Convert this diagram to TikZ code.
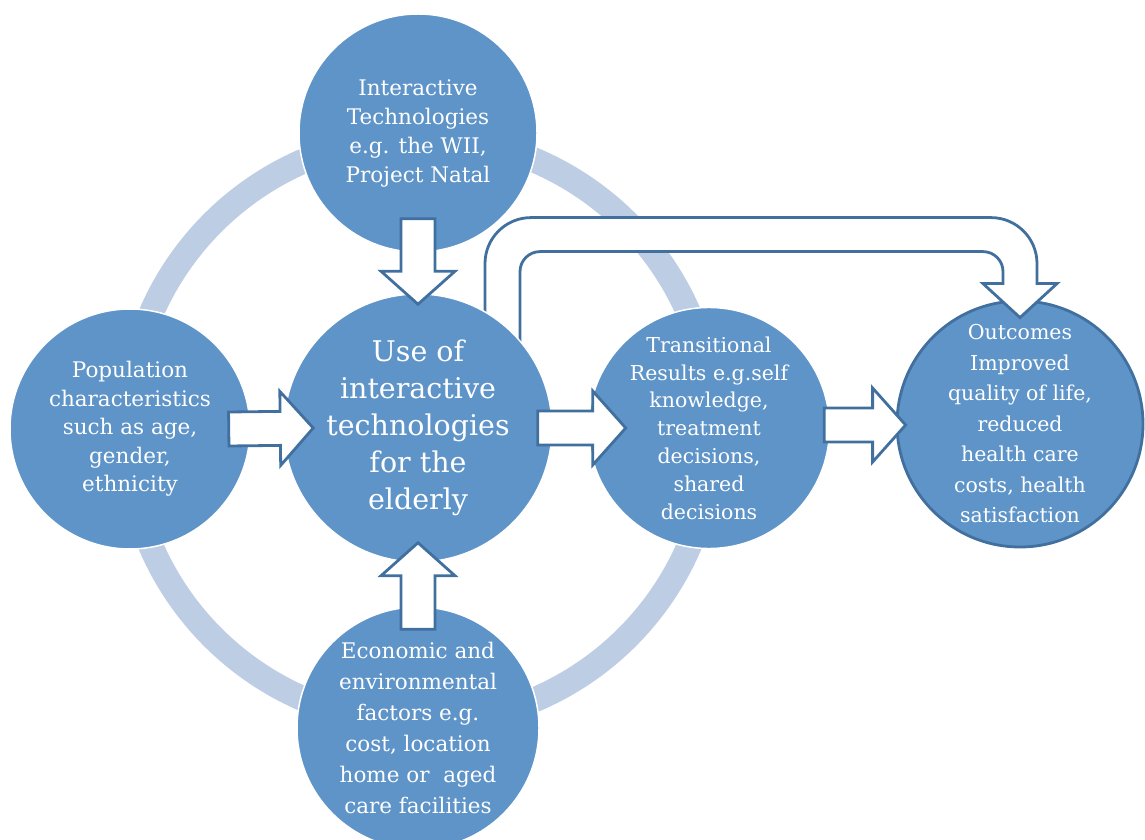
\documentclass[tikz,border=0pt]{standalone}
\usepackage{fontspec}
\setmainfont{DejaVu Serif}
\usetikzlibrary{calc}

\definecolor{bubbleblue}{RGB}{94,148,200}
\definecolor{ringblue}{RGB}{188,205,228}
\definecolor{arrowblue}{RGB}{65,112,159}

\tikzset{
  bubble/.style={circle, fill=bubbleblue, draw=white, line width=1.5pt, text=white,
    align=center, inner sep=0pt, font=\fontsize{21.5}{29}\selectfont},
  arrowbox/.style={fill=white, draw=arrowblue, line width=2.8pt, line join=miter},
}

\begin{document}
\begin{tikzpicture}[x=1pt,y=1pt]
\def\shaft{17pt}
\def\head{37pt}
\def\headlen{33pt}
% block arrow from #1 to the tip #2
\def\blockarrow#1#2{%
  \coordinate (hb) at ($(#2)!\headlen!(#1)$);
  \draw[arrowbox] ($(#1)!\shaft!90:(#2)$) -- ($(hb)!\shaft!90:(#2)$) -- ($(hb)!\head!90:(#2)$) -- (#2)
    -- ($(hb)!\head!-90:(#2)$) -- ($(hb)!\shaft!-90:(#2)$) -- ($(#1)!\shaft!-90:(#2)$) -- cycle;}

\useasboundingbox (0,0) rectangle (1145,839);

% the light ring behind
\draw[ringblue, line width=25pt] (420,409) circle (293);

\node[bubble, draw=arrowblue, line width=2.8pt, minimum size=246pt, font=\fontsize{20.5}{30.5}\selectfont] (outc) at (1020,415)
  {Outcomes\\Improved\\quality of life,\\reduced\\health care\\costs, health\\satisfaction};

% U arrow from the centre to the outcomes
\coordinate (utip) at ([yshift=-18pt]outc.north);
\coordinate (utop) at ($(utip)+(0,100)$);
\coordinate (ubase) at ([xshift=67pt]418,411);
\draw[arrowbox] (ubase) -- ($(ubase |- utop)+(0,-46)$) arc[start angle=180,end angle=90,radius=46]
  -- ($(utop)+(-29,0)$) arc[start angle=90,end angle=0,radius=46]
  -- ($(utip)+(17,34)$) -- ++(20,0) -- (utip) -- ($(utip)+(-37,34)$) -- ++(20,0)
  -- ++(0,12) arc[start angle=0,end angle=90,radius=20]
  -- ($(ubase |- utop)+(55,-34)$) arc[start angle=90,end angle=180,radius=20]
  -- ($(ubase)+(35,0)$) -- cycle;

\node[bubble, minimum size=268pt, font=\fontsize{28.5}{37}\selectfont] (use) at (418,411)
  {Use of\\interactive\\technologies\\for the\\elderly};
\node[bubble, minimum size=238pt] (tech) at (418,706)
  {Interactive\\Technologies\\e.g. the WII,\\Project Natal};
\node[bubble, minimum size=240pt, font=\fontsize{21.5}{28.5}\selectfont] (pop) at (130,410)
  {Population\\characteristics\\such as age,\\gender,\\ethnicity};
\node[bubble, minimum size=242pt, font=\fontsize{21.5}{31}\selectfont] (econ) at (418,111)
  {Economic and\\environmental\\factors e.g.\\cost, location\\home or~~aged\\care facilities};
\node[bubble, minimum size=238pt, font=\fontsize{20.5}{27.8}\selectfont] (trans) at (709,411)
  {Transitional\\Results e.g.self\\knowledge,\\treatment\\decisions,\\shared\\decisions};

\coordinate (s1) at ([xshift=-22pt]pop.east);
\coordinate (t1) at ([xshift=30pt]use.west);
\coordinate (s2) at ([xshift=-15pt]use.east);
\coordinate (t2) at ([xshift=38pt]trans.west);
\coordinate (t3) at ($(outc.west)+(10,-1)$);
\coordinate (s3) at ($(trans.east |- t3)+(-6,0)$);
\coordinate (s4) at ([yshift=34pt]tech.south);
\coordinate (t4) at ([yshift=-11pt]use.north);
\coordinate (s5) at ([yshift=-23pt]econ.north);
\coordinate (t5) at ([yshift=20pt]use.south);

\blockarrow{s1}{t1}
\blockarrow{s2}{t2}
\blockarrow{s3}{t3}
\blockarrow{s4}{t4}
\blockarrow{s5}{t5}

\end{tikzpicture}
\end{document}
